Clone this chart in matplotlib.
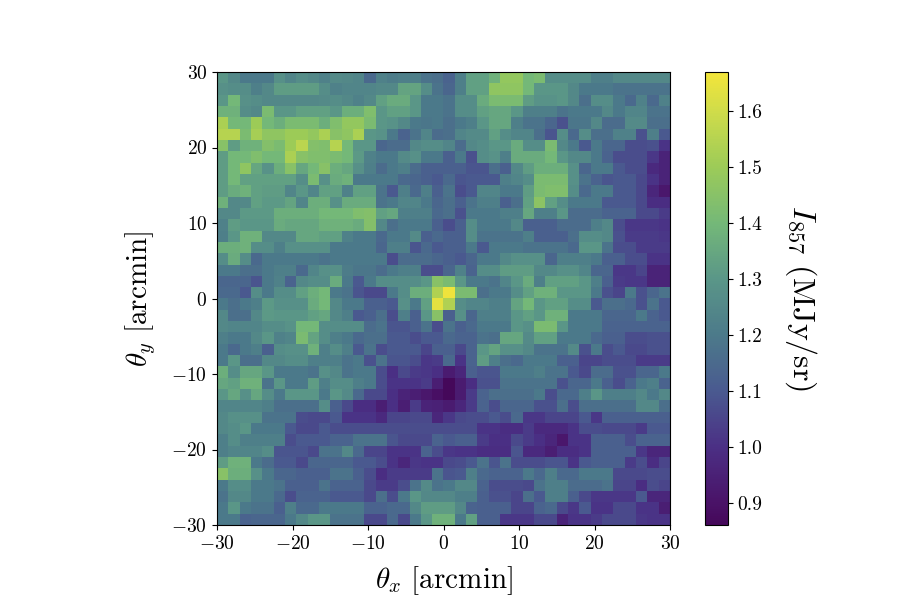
import numpy as np
import matplotlib
matplotlib.use("Agg")
from matplotlib import pyplot as plt
from matplotlib.colors import LinearSegmentedColormap

plt.rcParams['font.family'] = ['cmr10']
plt.rcParams['mathtext.fontset'] = 'cm'
plt.rcParams['axes.formatter.use_mathtext'] = True
plt.rcParams['axes.unicode_minus'] = True

# intensity in units of 0.01 MJy/sr, top row first (theta_y = +30 down to -30)
intensity_rows = [
    [130,125,120,120,120,128,124,127,125,123,126,125,124,115,123,121,122,122,118,117,113,122,133,133,138,148,148,140,142,127,127,127,127,122,122,125,125,125,125,125],
    [128,127,127,122,125,132,132,132,132,127,123,124,124,124,125,125,134,134,127,118,114,122,133,133,147,147,147,140,130,130,130,125,120,120,120,118,118,118,118,118],
    [130,140,128,127,125,125,125,125,125,126,127,125,123,125,133,136,136,130,120,120,118,127,127,136,142,142,142,132,129,129,130,125,117,127,127,120,115,123,115,123],
    [138,138,127,125,142,130,130,133,133,133,130,137,137,143,130,133,133,130,120,120,118,127,127,133,135,135,130,122,122,122,118,120,120,120,125,120,124,124,118,118],
    [153,140,140,150,140,137,142,142,142,137,143,148,148,142,130,129,125,120,119,120,117,120,122,130,135,135,122,118,118,114,108,119,119,125,116,116,126,126,117,117],
    [155,155,142,152,147,147,150,150,148,153,145,147,153,130,129,120,113,118,124,116,117,124,126,126,133,127,124,124,117,109,127,115,127,117,117,123,123,108,122,110],
    [145,132,138,138,144,142,150,156,144,143,155,140,130,130,114,116,116,125,127,127,124,116,125,127,130,130,136,127,127,142,125,120,110,120,114,114,107,107,108,101],
    [132,140,140,143,140,140,153,145,143,143,142,140,131,123,120,120,126,128,120,120,112,120,108,127,129,122,136,136,136,140,130,125,125,120,113,107,107,107,102,96],
    [132,140,147,135,129,137,145,135,140,145,137,135,128,122,116,120,122,116,112,112,112,112,109,109,117,112,125,132,137,137,137,128,114,120,120,110,107,107,98,96],
    [132,140,133,133,133,133,133,127,142,128,136,138,120,120,120,120,115,114,112,110,115,109,110,110,110,122,124,127,142,142,142,128,118,113,109,110,110,106,101,96],
    [132,136,138,133,132,132,124,130,124,133,133,123,133,133,118,110,122,115,122,112,118,107,110,124,124,120,120,132,142,143,143,127,115,120,120,110,110,106,97,92],
    [138,125,125,133,131,131,134,124,137,137,128,136,136,136,118,120,124,124,120,114,117,112,118,122,122,112,117,133,146,133,127,120,120,120,110,110,110,106,99,99],
    [125,125,131,131,131,137,137,137,137,140,140,140,143,144,133,135,122,122,122,115,117,108,120,120,120,122,122,135,122,122,130,116,116,116,113,113,113,106,106,103],
    [123,132,130,130,130,136,135,135,135,138,138,138,136,144,125,117,120,120,120,112,107,112,127,120,120,120,125,112,112,112,116,116,116,122,125,107,102,102,102,101],
    [122,130,138,138,125,125,125,135,135,133,133,123,120,120,115,120,120,126,112,115,112,112,127,118,118,118,118,122,112,112,112,117,127,127,125,108,103,103,103,102],
    [137,137,138,127,127,122,128,128,128,128,120,120,120,120,114,122,122,109,115,110,112,112,120,110,120,120,120,118,118,118,118,115,130,130,118,107,107,103,103,103],
    [127,136,127,115,120,120,120,120,120,118,120,120,120,120,120,107,116,116,116,114,112,110,114,120,120,125,128,128,128,114,122,122,122,120,112,112,107,107,101,101],
    [120,120,117,117,120,122,122,115,124,128,128,121,119,119,116,120,122,122,107,107,114,123,113,127,127,132,132,132,125,125,128,128,124,114,114,102,102,105,96,96],
    [114,114,114,109,120,123,113,125,127,127,136,120,110,120,127,127,127,127,130,145,142,130,120,120,118,124,130,136,122,133,133,133,130,122,112,103,102,102,96,96],
    [115,115,110,127,120,127,127,133,137,140,120,118,109,106,106,120,127,137,137,154,166,142,142,117,120,120,127,133,138,138,130,130,130,120,108,105,120,108,114,118],
    [120,117,120,122,131,128,128,128,136,140,125,120,120,112,112,110,128,120,133,164,154,127,124,124,122,122,134,140,130,133,133,127,127,110,117,117,115,108,118,110],
    [125,117,117,125,131,130,130,130,133,135,125,122,110,112,117,107,122,112,130,145,112,128,114,122,122,122,130,133,130,138,138,120,120,120,114,114,114,120,113,110],
    [125,124,124,124,127,127,129,140,140,127,127,127,127,116,118,109,109,112,118,107,118,112,115,120,120,120,130,128,142,142,130,120,120,120,113,113,113,113,113,113],
    [122,120,120,125,130,123,124,142,134,127,122,120,115,117,117,110,110,107,110,110,115,113,113,118,117,135,135,126,133,133,120,120,120,115,112,112,107,107,108,108],
    [120,115,120,122,112,127,128,128,138,122,127,122,110,118,107,110,110,110,105,112,112,106,113,130,134,128,128,125,118,118,118,126,108,120,107,110,106,106,108,108],
    [120,130,117,117,125,125,127,127,122,122,122,118,120,108,118,109,109,107,102,103,115,101,113,132,122,117,115,120,120,120,112,112,105,105,107,107,107,103,103,103],
    [137,127,135,135,130,120,120,120,118,128,125,118,120,120,107,100,106,103,102,100,93,97,112,109,109,120,120,120,122,118,118,110,106,116,116,108,108,114,114,120],
    [135,133,138,138,118,130,120,120,132,122,127,127,122,120,107,101,101,101,103,94,86,93,99,108,108,118,118,118,118,118,108,114,114,120,112,107,113,120,122,113],
    [130,135,128,135,127,120,130,130,130,120,130,126,115,106,106,100,96,94,92,89,86,93,103,113,117,117,117,117,120,107,115,115,122,130,122,122,122,125,120,125],
    [124,124,124,124,122,117,117,117,117,127,112,106,99,99,94,100,94,103,96,95,93,97,103,113,107,114,114,114,108,108,117,107,117,117,117,117,117,125,125,117],
    [125,128,128,128,118,118,118,107,106,106,110,101,101,101,98,105,105,106,106,97,102,106,107,107,110,107,115,102,102,105,105,105,110,102,112,112,112,112,112,112],
    [125,127,130,120,120,120,110,106,106,110,107,107,107,107,107,107,107,107,107,107,107,107,107,101,101,99,99,103,98,98,98,101,107,107,106,106,106,103,110,110],
    [122,127,122,122,122,122,107,110,110,110,113,113,118,118,118,109,106,106,106,113,110,112,112,103,100,100,106,103,100,97,92,101,101,112,112,112,107,113,113,113],
    [122,124,124,124,127,109,109,109,106,118,118,125,115,105,105,101,101,101,113,107,102,101,101,99,99,99,109,98,98,94,99,99,101,112,112,112,112,102,97,97],
    [132,138,138,120,116,110,110,106,114,114,114,114,110,110,107,101,97,102,101,101,106,107,110,118,109,118,107,107,107,109,109,101,110,112,112,112,103,107,99,105],
    [145,137,137,128,120,114,114,112,112,112,118,118,112,107,99,103,103,103,103,118,109,110,122,115,113,113,113,120,115,122,115,115,120,120,120,106,106,106,107,107],
    [120,127,127,120,120,118,112,112,112,118,113,113,113,106,103,103,107,118,126,118,120,125,125,113,107,107,107,106,118,122,122,116,116,116,118,105,105,99,107,105],
    [118,125,125,120,120,115,107,113,113,113,110,110,110,106,117,107,120,130,125,125,125,122,122,112,108,108,105,117,110,122,122,112,106,102,102,102,102,110,97,97],
    [120,130,120,118,118,112,122,115,115,120,120,120,120,113,113,115,115,125,132,132,132,125,113,112,112,112,105,105,113,115,106,102,110,101,101,106,106,101,101,94],
    [120,120,113,114,114,114,120,125,130,130,118,118,118,106,106,115,106,120,130,138,138,120,133,112,112,102,102,102,106,106,96,101,101,103,106,106,106,102,101,101],
]
theta_ticks = [-30, -20, -10, 0, 10, 20, 30]
cbar_ticks = [0.9, 1.0, 1.1, 1.2, 1.3, 1.4, 1.5, 1.6]

vmin, vmax = 0.86, 1.67
# washed-out viridis as it looks in the picture
cmap_values = [0.86, 0.9, 1.0, 1.1, 1.2, 1.3, 1.4, 1.5, 1.6, 1.67]
cmap_colors = ['#45085a', '#4a1368', '#4b3085', '#4a5a90', '#4c7a8a', '#5a9688',
               '#74b878', '#9ccb58', '#cfdc4a', '#f3e53a']

intensity = np.array(intensity_rows) / 100.0
cmap = LinearSegmentedColormap.from_list(
    'washed', [((v - vmin) / (vmax - vmin), c) for v, c in zip(cmap_values, cmap_colors)])

fig = plt.figure(figsize=(9, 6), dpi=100)
ax = fig.add_axes([217/900, 1 - 525/600, 453/900, 453/600])
im = ax.imshow(intensity, extent=[-30, 30, -30, 30], origin='upper',
               cmap=cmap, vmin=vmin, vmax=vmax, interpolation='nearest')
ax.set_xticks(theta_ticks)
ax.set_yticks(theta_ticks)
ax.tick_params(labelsize=14)
ax.set_xlabel(r'$\theta_x\ [\mathrm{arcmin}]$', fontsize=21, labelpad=8)
ax.set_ylabel(r'$\theta_y\ [\mathrm{arcmin}]$', fontsize=21, labelpad=10)

cax = fig.add_axes([705/900, 1 - 525/600, 23/900, 453/600])
cbar = fig.colorbar(im, cax=cax, ticks=cbar_ticks)
cbar.ax.set_yticklabels(['%.1f' % t for t in cbar_ticks])
cbar.ax.tick_params(labelsize=14)
cbar.set_label(r'$I_{857}\ (\mathrm{MJy/sr})$', fontsize=23, rotation=270, labelpad=40)

plt.savefig("out.png", dpi=100)
